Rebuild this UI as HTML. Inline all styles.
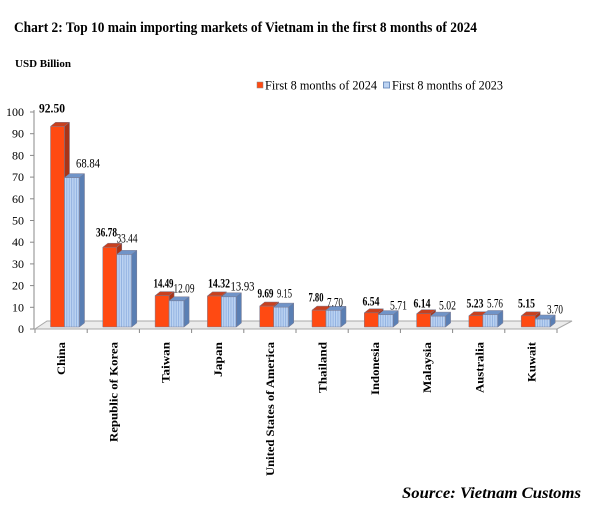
<!DOCTYPE html>
<html>
<head>
<meta charset="utf-8">
<style>
html,body{margin:0;padding:0;background:#fff;}
svg{display:block;}
text{font-family:"Liberation Serif","Times New Roman",serif;fill:#000;}
.b{font-weight:bold;}
</style>
</head>
<body>
<svg width="604" height="508" viewBox="0 0 604 508" xmlns="http://www.w3.org/2000/svg">
<defs>
  <pattern id="bs" width="2.4" height="4" patternUnits="userSpaceOnUse">
    <rect width="2.4" height="4" fill="#bcd3f2"/>
    <rect x="1.5" width="0.9" height="4" fill="#8fb0e0"/>
  </pattern>
</defs>

<!-- Title -->
<text x="14" y="32" class="b" font-size="15" textLength="463" lengthAdjust="spacingAndGlyphs">Chart 2: Top 10 main importing markets of Vietnam in the first 8 months of 2024</text>
<text x="15" y="67" class="b" font-size="11" textLength="56" lengthAdjust="spacingAndGlyphs">USD Billion</text>

<!-- Legend -->
<rect x="257" y="82" width="6" height="6" fill="#ff4a12" stroke="#888" stroke-width="0.5"/>
<text x="265" y="89.5" font-size="13" textLength="112" lengthAdjust="spacingAndGlyphs">First 8 months of 2024</text>
<rect x="383.5" y="82" width="6" height="6" fill="#bcd3f2" stroke="#5a7fb4" stroke-width="0.8"/>
<text x="392" y="89.5" font-size="13" textLength="111" lengthAdjust="spacingAndGlyphs">First 8 months of 2023</text>

<!-- Y axis -->
<line x1="34" y1="110" x2="34" y2="329" stroke="#888" stroke-width="1"/>
<g stroke="#888" stroke-width="1">
  <line x1="30" y1="329" x2="34" y2="329"/>
  <line x1="30" y1="307.3" x2="34" y2="307.3"/>
  <line x1="30" y1="285.6" x2="34" y2="285.6"/>
  <line x1="30" y1="263.9" x2="34" y2="263.9"/>
  <line x1="30" y1="242.2" x2="34" y2="242.2"/>
  <line x1="30" y1="220.5" x2="34" y2="220.5"/>
  <line x1="30" y1="198.8" x2="34" y2="198.8"/>
  <line x1="30" y1="177.1" x2="34" y2="177.1"/>
  <line x1="30" y1="155.4" x2="34" y2="155.4"/>
  <line x1="30" y1="133.7" x2="34" y2="133.7"/>
  <line x1="30" y1="112" x2="34" y2="112"/>
</g>
<g font-size="12" text-anchor="end">
  <text x="24" y="333">0</text>
  <text x="24" y="311.3">10</text>
  <text x="24" y="289.6">20</text>
  <text x="24" y="267.9">30</text>
  <text x="24" y="246.2">40</text>
  <text x="24" y="224.5">50</text>
  <text x="24" y="202.8">60</text>
  <text x="24" y="181.1">70</text>
  <text x="24" y="159.4">80</text>
  <text x="24" y="137.7">90</text>
  <text x="24" y="116">100</text>
</g>

<!-- Floor -->
<polygon points="35,329 557,329 572,321 47,321" fill="#ececec" stroke="#a8a8a8" stroke-width="1"/>
<g stroke="#888" stroke-width="1">
  <line x1="35" y1="329" x2="35" y2="333"/>
  <line x1="87.2" y1="329" x2="87.2" y2="333"/>
  <line x1="139.4" y1="329" x2="139.4" y2="333"/>
  <line x1="191.6" y1="329" x2="191.6" y2="333"/>
  <line x1="243.8" y1="329" x2="243.8" y2="333"/>
  <line x1="296" y1="329" x2="296" y2="333"/>
  <line x1="348.2" y1="329" x2="348.2" y2="333"/>
  <line x1="400.4" y1="329" x2="400.4" y2="333"/>
  <line x1="452.6" y1="329" x2="452.6" y2="333"/>
  <line x1="504.8" y1="329" x2="504.8" y2="333"/>
  <line x1="557" y1="329" x2="557" y2="333"/>
</g>

<!-- Bars -->
<g stroke="#7a7a90" stroke-width="0.5" stroke-linejoin="round">
  <g transform="translate(50.5,0)">
    <rect x="0" y="126.3" width="14" height="200.7" fill="#ff4a12"/>
    <polygon points="0,126.3 14,126.3 19,122.3 5,122.3" fill="#c8401e"/>
    <polygon points="14,126.3 19,122.3 19,323 14,327" fill="#a83418"/>
    <rect x="14" y="177.6" width="15" height="149.4" fill="url(#bs)"/>
    <polygon points="14,177.6 29,177.6 34,173.6 19,173.6" fill="#7094c8"/>
    <polygon points="29,177.6 34,173.6 34,323 29,327" fill="#5a7fb4"/>
  </g>
  <g transform="translate(102.8,0)">
    <rect x="0" y="247.2" width="14" height="79.8" fill="#ff4a12"/>
    <polygon points="0,247.2 14,247.2 19,243.2 5,243.2" fill="#c8401e"/>
    <polygon points="14,247.2 19,243.2 19,323 14,327" fill="#a83418"/>
    <rect x="14" y="254.4" width="15" height="72.6" fill="url(#bs)"/>
    <polygon points="14,254.4 29,254.4 34,250.4 19,250.4" fill="#7094c8"/>
    <polygon points="29,254.4 34,250.4 34,323 29,327" fill="#5a7fb4"/>
  </g>
  <g transform="translate(155.1,0)">
    <rect x="0" y="295.6" width="14" height="31.4" fill="#ff4a12"/>
    <polygon points="0,295.6 14,295.6 19,291.6 5,291.6" fill="#c8401e"/>
    <polygon points="14,295.6 19,291.6 19,323 14,327" fill="#a83418"/>
    <rect x="14" y="300.8" width="15" height="26.2" fill="url(#bs)"/>
    <polygon points="14,300.8 29,300.8 34,296.8 19,296.8" fill="#7094c8"/>
    <polygon points="29,300.8 34,296.8 34,323 29,327" fill="#5a7fb4"/>
  </g>
  <g transform="translate(207.4,0)">
    <rect x="0" y="295.9" width="14" height="31.1" fill="#ff4a12"/>
    <polygon points="0,295.9 14,295.9 19,291.9 5,291.9" fill="#c8401e"/>
    <polygon points="14,295.9 19,291.9 19,323 14,327" fill="#a83418"/>
    <rect x="14" y="296.8" width="15" height="30.2" fill="url(#bs)"/>
    <polygon points="14,296.8 29,296.8 34,292.8 19,292.8" fill="#7094c8"/>
    <polygon points="29,296.8 34,292.8 34,323 29,327" fill="#5a7fb4"/>
  </g>
  <g transform="translate(259.7,0)">
    <rect x="0" y="306" width="14" height="21" fill="#ff4a12"/>
    <polygon points="0,306 14,306 19,302 5,302" fill="#c8401e"/>
    <polygon points="14,306 19,302 19,323 14,327" fill="#a83418"/>
    <rect x="14" y="307.1" width="15" height="19.9" fill="url(#bs)"/>
    <polygon points="14,307.1 29,307.1 34,303.1 19,303.1" fill="#7094c8"/>
    <polygon points="29,307.1 34,303.1 34,323 29,327" fill="#5a7fb4"/>
  </g>
  <g transform="translate(312,0)">
    <rect x="0" y="310.1" width="14" height="16.9" fill="#ff4a12"/>
    <polygon points="0,310.1 14,310.1 19,306.1 5,306.1" fill="#c8401e"/>
    <polygon points="14,310.1 19,306.1 19,323 14,327" fill="#a83418"/>
    <rect x="14" y="310.3" width="15" height="16.7" fill="url(#bs)"/>
    <polygon points="14,310.3 29,310.3 34,306.3 19,306.3" fill="#7094c8"/>
    <polygon points="29,310.3 34,306.3 34,323 29,327" fill="#5a7fb4"/>
  </g>
  <g transform="translate(364.3,0)">
    <rect x="0" y="312.8" width="14" height="14.2" fill="#ff4a12"/>
    <polygon points="0,312.8 14,312.8 19,308.8 5,308.8" fill="#c8401e"/>
    <polygon points="14,312.8 19,308.8 19,323 14,327" fill="#a83418"/>
    <rect x="14" y="314.6" width="15" height="12.4" fill="url(#bs)"/>
    <polygon points="14,314.6 29,314.6 34,310.6 19,310.6" fill="#7094c8"/>
    <polygon points="29,314.6 34,310.6 34,323 29,327" fill="#5a7fb4"/>
  </g>
  <g transform="translate(416.6,0)">
    <rect x="0" y="313.7" width="14" height="13.3" fill="#ff4a12"/>
    <polygon points="0,313.7 14,313.7 19,309.7 5,309.7" fill="#c8401e"/>
    <polygon points="14,313.7 19,309.7 19,323 14,327" fill="#a83418"/>
    <rect x="14" y="316.1" width="15" height="10.9" fill="url(#bs)"/>
    <polygon points="14,316.1 29,316.1 34,312.1 19,312.1" fill="#7094c8"/>
    <polygon points="29,316.1 34,312.1 34,323 29,327" fill="#5a7fb4"/>
  </g>
  <g transform="translate(468.9,0)">
    <rect x="0" y="315.7" width="14" height="11.3" fill="#ff4a12"/>
    <polygon points="0,315.7 14,315.7 19,311.7 5,311.7" fill="#c8401e"/>
    <polygon points="14,315.7 19,311.7 19,323 14,327" fill="#a83418"/>
    <rect x="14" y="314.5" width="15" height="12.5" fill="url(#bs)"/>
    <polygon points="14,314.5 29,314.5 34,310.5 19,310.5" fill="#7094c8"/>
    <polygon points="29,314.5 34,310.5 34,323 29,327" fill="#5a7fb4"/>
  </g>
  <g transform="translate(521.2,0)">
    <rect x="0" y="315.8" width="14" height="11.2" fill="#ff4a12"/>
    <polygon points="0,315.8 14,315.8 19,311.8 5,311.8" fill="#c8401e"/>
    <polygon points="14,315.8 19,311.8 19,323 14,327" fill="#a83418"/>
    <rect x="14" y="319" width="15" height="8" fill="url(#bs)"/>
    <polygon points="14,319 29,319 34,315 19,315" fill="#7094c8"/>
    <polygon points="29,319 34,315 34,323 29,327" fill="#5a7fb4"/>
  </g>
</g>

<!-- Data labels 2024 (bold) -->
<g font-size="13" font-weight="bold" text-anchor="middle">
  <text x="52" y="112.5" textLength="26" lengthAdjust="spacingAndGlyphs">92.50</text>
  <text x="106.5" y="236.5" textLength="21" lengthAdjust="spacingAndGlyphs">36.78</text>
  <text x="163.5" y="287.5" textLength="20" lengthAdjust="spacingAndGlyphs">14.49</text>
  <text x="219" y="287.5" textLength="22" lengthAdjust="spacingAndGlyphs">14.32</text>
  <text x="265.5" y="297.5" textLength="16" lengthAdjust="spacingAndGlyphs">9.69</text>
  <text x="316" y="301.5" textLength="15" lengthAdjust="spacingAndGlyphs">7.80</text>
  <text x="371" y="305.5" textLength="17" lengthAdjust="spacingAndGlyphs">6.54</text>
  <text x="422" y="307.5" textLength="17" lengthAdjust="spacingAndGlyphs">6.14</text>
  <text x="475" y="307.5" textLength="17" lengthAdjust="spacingAndGlyphs">5.23</text>
  <text x="526.5" y="307.5" textLength="17" lengthAdjust="spacingAndGlyphs">5.15</text>
</g>
<!-- Data labels 2023 -->
<g font-size="13" text-anchor="middle">
  <text x="88" y="167.5" textLength="24" lengthAdjust="spacingAndGlyphs">68.84</text>
  <text x="127" y="242.5" textLength="21" lengthAdjust="spacingAndGlyphs">33.44</text>
  <text x="184" y="292.5" textLength="21" lengthAdjust="spacingAndGlyphs">12.09</text>
  <text x="242.5" y="290.5" textLength="24" lengthAdjust="spacingAndGlyphs">13.93</text>
  <text x="284.5" y="297.5" textLength="15" lengthAdjust="spacingAndGlyphs">9.15</text>
  <text x="335" y="306.5" textLength="16" lengthAdjust="spacingAndGlyphs">7.70</text>
  <text x="398.5" y="309.5" textLength="17" lengthAdjust="spacingAndGlyphs">5.71</text>
  <text x="447.5" y="309.5" textLength="17" lengthAdjust="spacingAndGlyphs">5.02</text>
  <text x="495" y="307.5" textLength="16" lengthAdjust="spacingAndGlyphs">5.76</text>
  <text x="555" y="313.5" textLength="16" lengthAdjust="spacingAndGlyphs">3.70</text>
</g>

<!-- Category labels -->
<g font-size="12" font-weight="bold" text-anchor="end">
  <text transform="translate(65,342) rotate(-90)" textLength="33" lengthAdjust="spacingAndGlyphs">China</text>
  <text transform="translate(117.3,342) rotate(-90)" textLength="100" lengthAdjust="spacingAndGlyphs">Republic of Korea</text>
  <text transform="translate(169.6,342) rotate(-90)" textLength="41" lengthAdjust="spacingAndGlyphs">Taiwan</text>
  <text transform="translate(221.9,342) rotate(-90)" textLength="35" lengthAdjust="spacingAndGlyphs">Japan</text>
  <text transform="translate(274.2,342) rotate(-90)" textLength="134" lengthAdjust="spacingAndGlyphs">United States of America</text>
  <text transform="translate(326.5,342) rotate(-90)" textLength="51" lengthAdjust="spacingAndGlyphs">Thailand</text>
  <text transform="translate(378.8,342) rotate(-90)" textLength="53" lengthAdjust="spacingAndGlyphs">Indonesia</text>
  <text transform="translate(431.1,342) rotate(-90)" textLength="51" lengthAdjust="spacingAndGlyphs">Malaysia</text>
  <text transform="translate(483.4,342) rotate(-90)" textLength="51" lengthAdjust="spacingAndGlyphs">Australia</text>
  <text transform="translate(535.7,342) rotate(-90)" textLength="40" lengthAdjust="spacingAndGlyphs">Kuwait</text>
</g>

<!-- Source -->
<text x="402" y="498" font-size="16" font-weight="bold" font-style="italic" textLength="179" lengthAdjust="spacingAndGlyphs">Source: Vietnam Customs</text>
</svg>
</body>
</html>
